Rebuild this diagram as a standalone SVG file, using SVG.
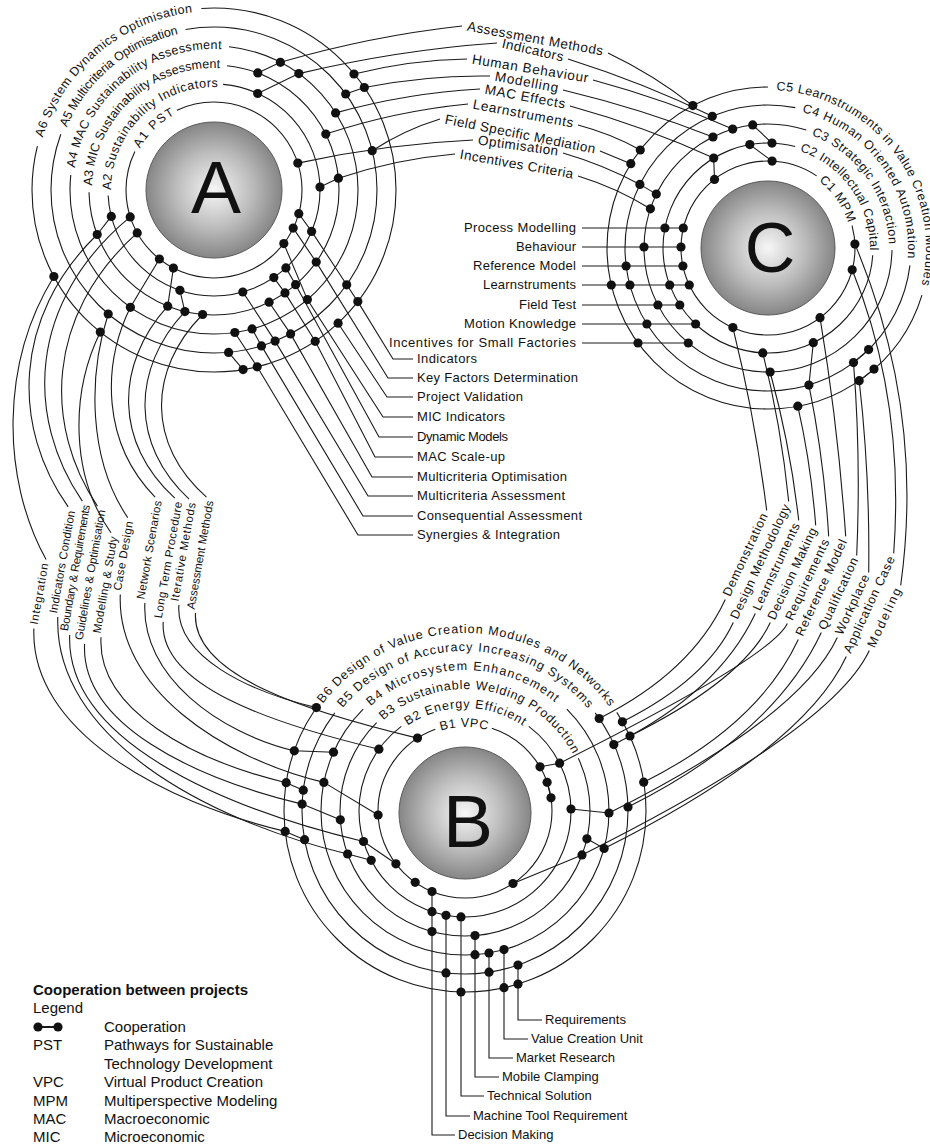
<svg xmlns="http://www.w3.org/2000/svg" width="930" height="1144" viewBox="0 0 930 1144">
<style>
.ln{fill:none;stroke:#1a1a1a;stroke-width:1.1}
.rg{fill:none;stroke:#1a1a1a;stroke-width:1.1}
.d{fill:#111}
text{font-family:"Liberation Sans",Arial,sans-serif;fill:#111}
.hl{font-size:12.5px;dominant-baseline:middle}
.tl{font-size:13.5px;dominant-baseline:middle;text-anchor:middle}
.ll{font-size:11.5px;dominant-baseline:middle;text-anchor:middle}
.rl{font-size:12.5px;dominant-baseline:middle;text-anchor:middle}
.il{font-size:13px}
.cl{font-size:13px;text-anchor:end}
.lg{font-size:15px}
.big{font-size:75px;text-anchor:middle}
.ball{fill:url(#ball);stroke:#5a5a5a;stroke-width:1}
</style>
<defs>
<radialGradient id="ball" cx="50%" cy="50%" r="50%">
<stop offset="0" stop-color="#f6f6f6"/>
<stop offset="0.55" stop-color="#bdbdbd"/>
<stop offset="1" stop-color="#868686"/>
</radialGradient>
<path id="pA1" d="M214,278 A88,88 0 1 1 214,102 A88,88 0 1 1 214,278"/>
<path id="pA2" d="M214,296 A106,106 0 1 1 214,84 A106,106 0 1 1 214,296"/>
<path id="pA3" d="M214,315 A125,125 0 1 1 214,65 A125,125 0 1 1 214,315"/>
<path id="pA4" d="M214,334 A144,144 0 1 1 214,46 A144,144 0 1 1 214,334"/>
<path id="pA5" d="M214,353 A163,163 0 1 1 214,27 A163,163 0 1 1 214,353"/>
<path id="pA6" d="M214,372 A182,182 0 1 1 214,8 A182,182 0 1 1 214,372"/>
<path id="pC1" d="M768,335 A87,87 0 1 1 768,161 A87,87 0 1 1 768,335"/>
<path id="pC2" d="M768,353 A105,105 0 1 1 768,143 A105,105 0 1 1 768,353"/>
<path id="pC3" d="M768,372 A124,124 0 1 1 768,124 A124,124 0 1 1 768,372"/>
<path id="pC4" d="M768,391 A143,143 0 1 1 768,105 A143,143 0 1 1 768,391"/>
<path id="pC5" d="M768,409 A161,161 0 1 1 768,87 A161,161 0 1 1 768,409"/>
<path id="pB1" d="M465,898 A87,87 0 1 1 465,724 A87,87 0 1 1 465,898"/>
<path id="pB2" d="M465,917 A106,106 0 1 1 465,705 A106,106 0 1 1 465,917"/>
<path id="pB3" d="M465,936 A125,125 0 1 1 465,686 A125,125 0 1 1 465,936"/>
<path id="pB4" d="M465,955 A144,144 0 1 1 465,667 A144,144 0 1 1 465,955"/>
<path id="pB5" d="M465,974 A163,163 0 1 1 465,648 A163,163 0 1 1 465,974"/>
<path id="pB6" d="M465,992 A181,181 0 1 1 465,630 A181,181 0 1 1 465,992"/>
</defs>
<rect width="930" height="1144" fill="#fff"/>

<g id="hub-A">
<circle class="rg" cx="214" cy="190" r="88" pathLength="360" stroke-dasharray="321 39" stroke-dashoffset="115"/>
<circle class="rg" cx="214" cy="190" r="106" pathLength="360" stroke-dasharray="262 98" stroke-dashoffset="85"/>
<circle class="rg" cx="214" cy="190" r="125" pathLength="360" stroke-dasharray="263 97" stroke-dashoffset="84"/>
<circle class="rg" cx="214" cy="190" r="144" pathLength="360" stroke-dasharray="270 90" stroke-dashoffset="84"/>
<circle class="rg" cx="214" cy="190" r="163" pathLength="360" stroke-dasharray="300 60" stroke-dashoffset="100"/>
<circle class="rg" cx="214" cy="190" r="182" pathLength="360" stroke-dasharray="288 72" stroke-dashoffset="94"/>
<text class="hl"><textPath href="#pA1" startOffset="182.8" textLength="50.7">A1 PST</textPath></text>
<text class="hl"><textPath href="#pA2" startOffset="166.5" textLength="170">A2 Sustainability Indicators</textPath></text>
<text class="hl"><textPath href="#pA3" startOffset="200.7" textLength="198">A3 MIC Sustainability Assessment</textPath></text>
<text class="hl"><textPath href="#pA4" startOffset="248.8" textLength="211">A4 MAC Sustainability Assessment</textPath></text>
<text class="hl"><textPath href="#pA5" startOffset="321.5" textLength="153.6">A5 Multicriteria Optimisation</textPath></text>
<text class="hl"><textPath href="#pA6" startOffset="339.9" textLength="209.6">A6 System Dynamics Optimisation</textPath></text>
<circle class="ball" cx="214" cy="190" r="68"/>
<text class="big" x="216" y="213">A</text>
</g>

<g id="hub-C">
<circle class="rg" cx="768" cy="248" r="87" pathLength="360" stroke-dasharray="319 41" stroke-dashoffset="15"/>
<circle class="rg" cx="768" cy="248" r="105" pathLength="360" stroke-dasharray="281 79" stroke-dashoffset="356"/>
<circle class="rg" cx="768" cy="248" r="124" pathLength="360" stroke-dasharray="287 73" stroke-dashoffset="359"/>
<circle class="rg" cx="768" cy="248" r="143" pathLength="360" stroke-dasharray="274 86" stroke-dashoffset="353"/>
<circle class="rg" cx="768" cy="248" r="161" pathLength="360" stroke-dasharray="253 107" stroke-dashoffset="343"/>
<text class="hl"><textPath href="#pC1" startOffset="329.5" textLength="53">C1 MPM</textPath></text>
<text class="hl"><textPath href="#pC2" startOffset="362.9" textLength="133.8">C2 Intellectual Capital</textPath></text>
<text class="hl"><textPath href="#pC3" startOffset="435" textLength="145">C3 Strategic Interaction</textPath></text>
<text class="hl"><textPath href="#pC4" startOffset="484.2" textLength="199.7">C4 Human Oriented Automation</textPath></text>
<text class="hl"><textPath href="#pC5" startOffset="514.2" textLength="282">C5 Learnstruments in Value Creation Modules</textPath></text>
<circle class="ball" cx="768" cy="248" r="67"/>
<text class="big" x="770" y="272" style="font-size:70px">C</text>
</g>

<g id="hub-B">
<circle class="rg" cx="465" cy="811" r="87" pathLength="360" stroke-dasharray="322 38" stroke-dashoffset="72"/>
<circle class="rg" cx="465" cy="811" r="106" pathLength="360" stroke-dasharray="286 74" stroke-dashoffset="53"/>
<circle class="rg" cx="465" cy="811" r="125" pathLength="360" stroke-dasharray="250 110" stroke-dashoffset="25"/>
<circle class="rg" cx="465" cy="811" r="144" pathLength="360" stroke-dasharray="270 90" stroke-dashoffset="45"/>
<circle class="rg" cx="465" cy="811" r="163" pathLength="360" stroke-dasharray="254 106" stroke-dashoffset="37"/>
<circle class="rg" cx="465" cy="811" r="181" pathLength="360" stroke-dasharray="247 113" stroke-dashoffset="33"/>
<text class="hl"><textPath href="#pB1" startOffset="247.5" textLength="48.6">B1 VPC</textPath></text>
<text class="hl"><textPath href="#pB2" startOffset="270.1" textLength="125.8">B2 Energy Efficient</textPath></text>
<text class="hl"><textPath href="#pB3" startOffset="301.1" textLength="226.9">B3 Sustainable Welding Production</textPath></text>
<text class="hl"><textPath href="#pB4" startOffset="346.8" textLength="205">B4 Microsystem Enhancement</textPath></text>
<text class="hl"><textPath href="#pB5" startOffset="369.8" textLength="284.5">B5 Design of Accuracy Increasing Systems</textPath></text>
<text class="hl"><textPath href="#pB6" startOffset="401.2" textLength="338">B6 Design of Value Creation Modules and Networks</textPath></text>
<circle class="ball" cx="465" cy="813" r="66"/>
<text class="big" x="468" y="847">B</text>
</g>

<g id="connectors">
<!-- A-C top -->
<path class="ln" d="M257.8,72.9 L280.4,62.3 Q371,36 462,26 M608,53 Q654,75 692.8,105.6"/>
<path class="ln" d="M257.7,93.5 L298.8,73.6 Q398,50 497,43 M568,59 Q644,83 712.3,116.3"/>
<path class="ln" d="M354,74 Q410,60 467,59 M593,80 Q667,100 732.7,129.1"/>
<path class="ln" d="M345.7,94 L364.3,87.5 Q427,75 490,76 M563,90 Q642,109 713,137"/>
<path class="ln" d="M335.6,112.9 Q407,93 480,89 M570,106 Q646,127 713.7,158.1"/>
<path class="ln" d="M325.8,134.1 Q396,111 468,104 M578,125 Q612,134 640.3,150"/>
<path class="ln" d="M372.2,150.7 Q404,130 440,119 M600,151 L630.8,163.7"/>
<path class="ln" d="M297.8,163.1 Q385,144 473,140 M563,153 Q604,165 639.9,184.4 L656.3,194.1"/>
<path class="ln" d="M320,187.1 L338.4,178.2 Q396,159 455,154 M578,176 Q617,188 650.4,208.8"/>
<path class="ln" d="M752.7,124.9 L772,143.1 M749.8,144.6 L772.1,161.1 M713.7,158.1 L714.5,179.4"/>
<text class="tl" transform="translate(535,39.5) rotate(10.4)" textLength="138">Assessment Methods</text>
<text class="tl" transform="translate(532.5,51) rotate(12.9)" textLength="62.6">Indicators</text>
<text class="tl" transform="translate(530,69.5) rotate(9.3)" textLength="117.5">Human Behaviour</text>
<text class="tl" transform="translate(526.5,83) rotate(10.8)" textLength="64.1">Modelling</text>
<text class="tl" transform="translate(525,97.5) rotate(10.6)" textLength="81.4">MAC Effects</text>
<text class="tl" transform="translate(523,114.5) rotate(10.8)" textLength="101.8">Learnstruments</text>
<text class="tl" transform="translate(520,135) rotate(11.3)" textLength="153">Field Specific Mediation</text>
<text class="tl" transform="translate(518,146.5) rotate(7.8)" textLength="80.8">Optimisation</text>
<text class="tl" transform="translate(516.5,165) rotate(10)" textLength="114.8">Incentives Criteria</text>

<!-- A internal -->
<path class="ln" d="M298.8,213.7 L311.6,231.4 L346.7,284.8 L357.8,301.6 L393,359 L413,359"/>
<path class="ln" d="M293.2,228.1 L316.2,262.1 L388,378 L413,378"/>
<path class="ln" d="M338.1,323.2 L387,397 L413,397"/>
<path class="ln" d="M283.8,243.6 L307.4,299.6 L383,417 L413,417"/>
<path class="ln" d="M285.9,267.9 L295.6,284.7 L379,437 L413,437"/>
<path class="ln" d="M273.8,277.6 L285,292.9 L315.2,341.3 L375,457 L413,457"/>
<path class="ln" d="M269.1,302.2 L290.6,333.9 L372,477 L413,477"/>
<path class="ln" d="M242.8,292 L275.1,341.1 L368,496 L413,496"/>
<path class="ln" d="M252.1,328.9 L261.5,345.9 L363,516 L413,516"/>
<path class="ln" d="M234.8,332.5 L257.2,366.8 L358,535 L413,535"/>
<path class="ln" d="M228.6,352.4 L243.1,369.6"/>
<text class="il" x="417" y="363" textLength="60">Indicators</text>
<text class="il" x="417" y="382" textLength="161">Key Factors Determination</text>
<text class="il" x="417" y="401" textLength="106">Project Validation</text>
<text class="il" x="417" y="421" textLength="88">MIC Indicators</text>
<text class="il" x="417" y="441" textLength="91">Dynamic Models</text>
<text class="il" x="417" y="461" textLength="88">MAC Scale-up</text>
<text class="il" x="417" y="481" textLength="150">Multicriteria Optimisation</text>
<text class="il" x="417" y="500" textLength="148">Multicriteria Assessment</text>
<text class="il" x="417" y="520" textLength="165">Consequential Assessment</text>
<text class="il" x="417" y="539" textLength="143">Synergies &amp; Integration</text>

<!-- C internal rows -->
<path class="ln" d="M582,228 H683.3 M582,247 H681 M582,266 H682.9 M582,285 H689.3 M582,305 H679.8 M582,324 H695.6 M582,343 H688.3"/>
<text class="cl" x="576" y="232" textLength="112">Process Modelling</text>
<text class="cl" x="576" y="251" textLength="60">Behaviour</text>
<text class="cl" x="576" y="270" textLength="103">Reference Model</text>
<text class="cl" x="576" y="289" textLength="93">Learnstruments</text>
<text class="cl" x="576" y="309" textLength="57">Field Test</text>
<text class="cl" x="576" y="328" textLength="112">Motion Knowledge</text>
<text class="cl" x="576" y="347" textLength="187">Incentives for Small Factories</text>

<!-- A-B left loop -->
<path class="ln" d="M53.9,276.5 C0.8,362.6 0.8,477.4 46.1,559.6 M33.9,628.4 C29.9,729.9 159.6,801.2 285.2,831.4 L304.6,839.7"/>
<path class="ln" d="M111.3,216.4 L97.2,234.5 C11.9,317.4 11.9,427.9 68.2,506.9 M57.8,617.1 C53.8,735.6 202.7,819.2 347.6,854 L371.2,860.3"/>
<path class="ln" d="M130.2,216.9 C26,303.3 26,418.6 82.3,501.1 M69.7,634.9 C65.7,738.2 216.6,806.2 363.5,841.5 L395.9,863.8"/>
<path class="ln" d="M137.2,232.9 C44.4,316 44.4,426.9 97.4,506.1 M84.6,643.9 C80.6,724 193.4,778 302.1,804.1 L340.3,819.8"/>
<path class="ln" d="M100.3,332.1 C70.3,393.5 70.3,475.3 111,532.8 M101,637.2 C97,710 193.6,760.5 286.2,782.7 L303.3,790.2"/>
<path class="ln" d="M108.2,314 C88.1,376.3 88.1,459.3 127.7,517.6 M120.3,594.4 C116.3,688.4 222.1,758 323.9,782.4 L378.1,815"/>
<path class="ln" d="M159.4,259 L130.4,307.3 C101.9,365.4 101.9,442.9 155.1,497.1 M144.9,602.9 C140.9,676.9 219.6,732.9 294.3,750.8 L333.5,752.2"/>
<path class="ln" d="M173.4,268.1 L167.7,306.2 C114.4,364.9 114.4,443.3 174.8,498.1 M163.2,621.9 C159.2,685.6 271.1,723.3 378.9,749.2"/>
<path class="ln" d="M179.9,290.3 L184.9,311.6 C131,369 131,445.6 189.1,499.1 M178.9,604.9 C174.9,656.3 247.7,691.1 316.4,707.6"/>
<path class="ln" d="M202.6,314.5 C147.2,370.5 147.2,445.1 206.5,497.1 M195.5,612.9 C191.5,675.5 306.5,711.5 417.5,738.1"/>
<text class="ll" transform="translate(40,594) rotate(-80)" textLength="62">Integration</text>
<text class="ll" transform="translate(63,562) rotate(-80)" textLength="104">Indicators Condition</text>
<text class="ll" transform="translate(76,568) rotate(-80)" textLength="128">Boundary &amp; Requirements</text>
<text class="ll" transform="translate(91,575) rotate(-80)" textLength="132">Guidelines &amp; Optimisation</text>
<text class="ll" transform="translate(106,585) rotate(-80)" textLength="98">Modelling &amp; Study</text>
<text class="ll" transform="translate(124,556) rotate(-80)" textLength="70">Case Design</text>
<text class="ll" transform="translate(150,550) rotate(-80)" textLength="100">Network Scenarios</text>
<text class="ll" transform="translate(169,560) rotate(-80)" textLength="118">Long Term Procedure</text>
<text class="ll" transform="translate(184,552) rotate(-80)" textLength="100">Iterative Methods</text>
<text class="ll" transform="translate(201,555) rotate(-80)" textLength="110">Assessment Methods</text>

<!-- C-B right loop -->
<path class="ln" d="M732.9,327.6 Q755,417 766.7,510.4 M725.3,599.6 Q691.3,672.5 599.2,718.5"/>
<path class="ln" d="M762.8,352.9 Q781,425 788.7,501.4 M733.3,622.6 Q706.7,679.6 622.4,721.8"/>
<path class="ln" d="M770.1,372 Q790,444 798.7,520.4 M755.3,613.6 Q718.6,692.2 613.8,744.6"/>
<path class="ln" d="M797.8,406.2 Q811,464 815.7,525.4 M770.3,622.6 Q744,679.1 630,736"/>
<path class="ln" d="M813.3,342.7 L808.9,385.1 Q824,459 828.7,536.4 M787.3,623.6 Q771.7,657.1 559.6,763.2 L540,766.8"/>
<path class="ln" d="M820,317.7 Q838,425 845.7,536.4 M798.3,639.6 Q758.5,724.8 643.7,782.2"/>
<path class="ln" d="M868.6,349.6 L853.5,362.6 Q861,457 856.7,555.4 M821.3,632.6 Q774,734 628,807"/>
<path class="ln" d="M874,369.1 L859.2,380.7 Q870,475 868.7,572.4 M837.3,637.6 Q800,717.5 609,813 L571,809"/>
<path class="ln" d="M852.2,269.8 Q905,400 893.7,553.4 M846.3,656.6 Q803.2,748.9 604.1,848.5 L586.9,838.8"/>
<path class="ln" d="M854.9,244.1 Q925,410 900.7,585.4 M869.3,650.6 Q832.4,729.7 582,854.9 L513,883.5"/>
<path class="ln" d="M547.1,782.3 L551,797.8"/>
<text class="rl" transform="translate(746,555) rotate(-65)" textLength="90">Demonstration</text>
<text class="rl" transform="translate(761,562) rotate(-65)" textLength="125">Design Methodology</text>
<text class="rl" transform="translate(777,567) rotate(-65)" textLength="95">Learnstruments</text>
<text class="rl" transform="translate(793,574) rotate(-65)" textLength="100">Decision Making</text>
<text class="rl" transform="translate(808,580) rotate(-65)" textLength="88">Requirements</text>
<text class="rl" transform="translate(822,588) rotate(-65)" textLength="105">Reference Model</text>
<text class="rl" transform="translate(839,594) rotate(-65)" textLength="78">Qualification</text>
<text class="rl" transform="translate(853,605) rotate(-65)" textLength="65">Workplace</text>
<text class="rl" transform="translate(870,605) rotate(-65)" textLength="105">Application Case</text>
<text class="rl" transform="translate(885,618) rotate(-65)" textLength="64">Modeling</text>

<!-- B internal bottom -->
<path class="ln" d="M432,891.5 V1135 H455 M446,915.3 V1116 H470 M461,916.9 V1096 H484 M475,935.6 V1077 H499 M489,953 V1058 H513 M504,949.6 V1039 H528 M518,965.1 V1020 H542"/>
<text class="il" x="545" y="1024">Requirements</text>
<text class="il" x="531" y="1043">Value Creation Unit</text>
<text class="il" x="516" y="1062">Market Research</text>
<text class="il" x="502" y="1081">Mobile Clamping</text>
<text class="il" x="487" y="1100">Technical Solution</text>
<text class="il" x="473" y="1120">Machine Tool Requirement</text>
<text class="il" x="458" y="1139">Decision Making</text>

<!-- dots -->
<g class="d">
<circle cx="257.8" cy="72.9" r="4.6"/><circle cx="280.4" cy="62.3" r="4.6"/><circle cx="298.8" cy="73.6" r="4.6"/><circle cx="257.7" cy="93.5" r="4.6"/><circle cx="354" cy="74" r="4.6"/><circle cx="345.7" cy="94" r="4.6"/><circle cx="364.3" cy="87.5" r="4.6"/><circle cx="335.6" cy="112.9" r="4.6"/><circle cx="325.8" cy="134.1" r="4.6"/><circle cx="372.2" cy="150.7" r="4.6"/><circle cx="297.8" cy="163.1" r="4.6"/><circle cx="320" cy="187.1" r="4.6"/><circle cx="338.4" cy="178.2" r="4.6"/>
<circle cx="298.8" cy="213.7" r="4.6"/><circle cx="293.2" cy="228.1" r="4.6"/><circle cx="311.6" cy="231.4" r="4.6"/><circle cx="283.8" cy="243.6" r="4.6"/><circle cx="285.9" cy="267.9" r="4.6"/><circle cx="316.2" cy="262.1" r="4.6"/><circle cx="273.8" cy="277.6" r="4.6"/><circle cx="295.6" cy="284.7" r="4.6"/><circle cx="285" cy="292.9" r="4.6"/><circle cx="269.1" cy="302.2" r="4.6"/><circle cx="307.4" cy="299.6" r="4.6"/><circle cx="242.8" cy="292" r="4.6"/><circle cx="346.7" cy="284.8" r="4.6"/><circle cx="357.8" cy="301.6" r="4.6"/><circle cx="338.1" cy="323.2" r="4.6"/><circle cx="315.2" cy="341.3" r="4.6"/><circle cx="290.6" cy="333.9" r="4.6"/><circle cx="275.1" cy="341.1" r="4.6"/><circle cx="261.5" cy="345.9" r="4.6"/><circle cx="252.1" cy="328.9" r="4.6"/><circle cx="234.8" cy="332.5" r="4.6"/><circle cx="228.6" cy="352.4" r="4.6"/><circle cx="243.1" cy="369.6" r="4.6"/><circle cx="257.2" cy="366.8" r="4.6"/>
<circle cx="53.9" cy="276.5" r="4.6"/><circle cx="97.2" cy="234.5" r="4.6"/><circle cx="111.3" cy="216.4" r="4.6"/><circle cx="130.2" cy="216.9" r="4.6"/><circle cx="137.2" cy="232.9" r="4.6"/><circle cx="159.4" cy="259" r="4.6"/><circle cx="173.4" cy="268.1" r="4.6"/><circle cx="179.9" cy="290.3" r="4.6"/><circle cx="167.7" cy="306.2" r="4.6"/><circle cx="184.9" cy="311.6" r="4.6"/><circle cx="202.6" cy="314.5" r="4.6"/><circle cx="130.4" cy="307.3" r="4.6"/><circle cx="108.2" cy="314" r="4.6"/><circle cx="100.3" cy="332.1" r="4.6"/>
<circle cx="692.8" cy="105.6" r="4.6"/><circle cx="712.3" cy="116.3" r="4.6"/><circle cx="732.7" cy="129.1" r="4.6"/><circle cx="752.7" cy="124.9" r="4.6"/><circle cx="772" cy="143.1" r="4.6"/><circle cx="713" cy="137" r="4.6"/><circle cx="749.8" cy="144.6" r="4.6"/><circle cx="713.7" cy="158.1" r="4.6"/><circle cx="772.1" cy="161.1" r="4.6"/><circle cx="714.5" cy="179.4" r="4.6"/><circle cx="640.3" cy="150" r="4.6"/><circle cx="630.8" cy="163.7" r="4.6"/><circle cx="639.9" cy="184.4" r="4.6"/><circle cx="656.3" cy="194.1" r="4.6"/><circle cx="650.4" cy="208.8" r="4.6"/>
<circle cx="664.9" cy="228" r="4.6"/><circle cx="683.3" cy="228" r="4.6"/><circle cx="644" cy="247" r="4.6"/><circle cx="681" cy="247" r="4.6"/><circle cx="626.1" cy="266" r="4.6"/><circle cx="682.9" cy="266" r="4.6"/><circle cx="611.3" cy="285" r="4.6"/><circle cx="629.9" cy="285" r="4.6"/><circle cx="669.7" cy="285" r="4.6"/><circle cx="689.3" cy="285" r="4.6"/><circle cx="657.9" cy="305" r="4.6"/><circle cx="679.8" cy="305" r="4.6"/><circle cx="646.9" cy="324" r="4.6"/><circle cx="695.6" cy="324" r="4.6"/><circle cx="638" cy="343" r="4.6"/><circle cx="688.3" cy="343" r="4.6"/>
<circle cx="854.9" cy="244.1" r="4.6"/><circle cx="852.2" cy="269.8" r="4.6"/><circle cx="820" cy="317.7" r="4.6"/><circle cx="813.3" cy="342.7" r="4.6"/><circle cx="732.9" cy="327.6" r="4.6"/><circle cx="762.8" cy="352.9" r="4.6"/><circle cx="770.1" cy="372" r="4.6"/><circle cx="808.9" cy="385.1" r="4.6"/><circle cx="797.8" cy="406.2" r="4.6"/><circle cx="868.6" cy="349.6" r="4.6"/><circle cx="853.5" cy="362.6" r="4.6"/><circle cx="874" cy="369.1" r="4.6"/><circle cx="859.2" cy="380.7" r="4.6"/>
<circle cx="316.4" cy="707.6" r="4.6"/><circle cx="294.3" cy="750.8" r="4.6"/><circle cx="286.2" cy="782.7" r="4.6"/><circle cx="285.2" cy="831.4" r="4.6"/><circle cx="303.3" cy="790.2" r="4.6"/><circle cx="302.1" cy="804.1" r="4.6"/><circle cx="304.6" cy="839.7" r="4.6"/><circle cx="333.5" cy="752.2" r="4.6"/><circle cx="323.9" cy="782.4" r="4.6"/><circle cx="340.3" cy="819.8" r="4.6"/><circle cx="347.6" cy="854" r="4.6"/><circle cx="363.5" cy="841.5" r="4.6"/><circle cx="371.2" cy="860.3" r="4.6"/><circle cx="395.9" cy="863.8" r="4.6"/><circle cx="378.1" cy="815" r="4.6"/><circle cx="378.9" cy="749.2" r="4.6"/><circle cx="417.5" cy="738.1" r="4.6"/><circle cx="415.2" cy="882.3" r="4.6"/>
<circle cx="599.2" cy="718.5" r="4.6"/><circle cx="622.4" cy="721.8" r="4.6"/><circle cx="630" cy="736" r="4.6"/><circle cx="613.8" cy="744.6" r="4.6"/><circle cx="540" cy="766.8" r="4.6"/><circle cx="559.6" cy="763.2" r="4.6"/><circle cx="547.1" cy="782.3" r="4.6"/><circle cx="551" cy="797.8" r="4.6"/><circle cx="571" cy="809" r="4.6"/><circle cx="643.7" cy="782.2" r="4.6"/><circle cx="628" cy="807" r="4.6"/><circle cx="609" cy="813" r="4.6"/><circle cx="586.9" cy="838.8" r="4.6"/><circle cx="604.1" cy="848.5" r="4.6"/><circle cx="582" cy="854.9" r="4.6"/><circle cx="513" cy="883.5" r="4.6"/>
<circle cx="432" cy="891.5" r="4.6"/><circle cx="432" cy="911.7" r="4.6"/><circle cx="432" cy="931.6" r="4.6"/><circle cx="446" cy="915.3" r="4.6"/><circle cx="446" cy="972.9" r="4.6"/><circle cx="461" cy="916.9" r="4.6"/><circle cx="461" cy="992" r="4.6"/><circle cx="475" cy="935.6" r="4.6"/><circle cx="475" cy="954.7" r="4.6"/><circle cx="489" cy="953" r="4.6"/><circle cx="489" cy="972.2" r="4.6"/><circle cx="504" cy="949.6" r="4.6"/><circle cx="504" cy="987.7" r="4.6"/><circle cx="518" cy="965.1" r="4.6"/><circle cx="518" cy="984.1" r="4.6"/>
</g>
</g>

<g id="legend">
<text class="lg" x="33" y="995" font-weight="bold">Cooperation between projects</text>
<text class="lg" x="33" y="1013">Legend</text>
<path class="ln" d="M38,1027 H58" style="stroke-width:2"/>
<circle class="d" cx="38" cy="1027" r="4.6"/><circle class="d" cx="58" cy="1027" r="4.6"/>
<text class="lg" x="104" y="1032">Cooperation</text>
<text class="lg" x="33" y="1050">PST</text><text class="lg" x="104" y="1050">Pathways for Sustainable</text>
<text class="lg" x="104" y="1069">Technology Development</text>
<text class="lg" x="33" y="1087">VPC</text><text class="lg" x="104" y="1087">Virtual Product Creation</text>
<text class="lg" x="33" y="1106">MPM</text><text class="lg" x="104" y="1106">Multiperspective Modeling</text>
<text class="lg" x="33" y="1124">MAC</text><text class="lg" x="104" y="1124">Macroeconomic</text>
<text class="lg" x="33" y="1142">MIC</text><text class="lg" x="104" y="1142">Microeconomic</text>
</g>
</svg>
